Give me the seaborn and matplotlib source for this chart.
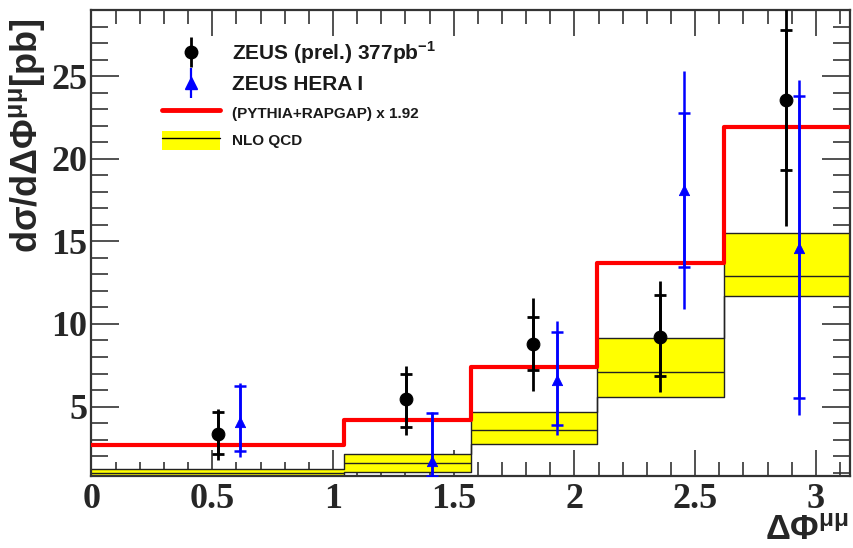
import numpy as np
import matplotlib
matplotlib.use("Agg")
import matplotlib.pyplot as plt
import seaborn as sns
from matplotlib.lines import Line2D
from matplotlib.patches import Patch
from matplotlib.ticker import MultipleLocator

# ---------------- data ----------------
bin_edges = [0.0, 1.047, 1.571, 2.094, 2.618, 3.1416]
pythia = [2.7, 4.2, 7.4, 13.7, 21.9]
nlo_center = [1.0, 1.56, 3.58, 7.1, 12.9]
nlo_low = [0.75, 1.05, 2.71, 5.6, 11.7]
nlo_high = [1.25, 2.12, 4.69, 9.13, 15.5]

zeus_x = [0.524, 1.303, 1.829, 2.355, 2.877]
zeus_y = [3.33, 5.44, 8.79, 9.23, 23.53]
zeus_stat_lo = [2.12, 3.78, 7.21, 6.87, 19.3]
zeus_stat_hi = [4.65, 7.0, 10.4, 11.74, 27.8]
zeus_tot_lo = [1.76, 3.27, 5.96, 5.86, 15.9]
zeus_tot_hi = [4.83, 7.45, 11.6, 12.6, 31.0]

hera_x = [0.615, 1.409, 1.930, 2.452, 2.932]
hera_y = [4.08, 1.7, 6.6, 18.08, 14.59]
hera_stat_lo = [2.3, 0.8, 3.88, 13.47, 5.5]
hera_stat_hi = [6.24, 4.6, 9.53, 22.77, 23.8]
hera_tot_lo = [1.92, 0.0, 3.27, 10.9, 4.48]
hera_tot_hi = [6.44, 4.65, 10.2, 25.3, 24.75]

x_ticks = [0, 0.5, 1, 1.5, 2, 2.5, 3]
x_ticklabels = ["0", "0.5", "1", "1.5", "2", "2.5", "3"]
y_ticks = [5, 10, 15, 20, 25]
y_ticklabels = ["5", "10", "15", "20", "25"]

legend_labels = ["ZEUS (prel.) 377pb$^{\\mathbf{-1}}$", "ZEUS HERA I",
                 "(PYTHIA+RAPGAP) x 1.92", "NLO QCD"]

# ---------------- style ----------------
sns.set_theme(style="ticks")
plt.rcParams["font.family"] = ["Liberation Sans", "DejaVu Sans"]
plt.rcParams["mathtext.fontset"] = "custom"
plt.rcParams["mathtext.bf"] = "Liberation Sans:bold"
plt.rcParams["mathtext.rm"] = "Liberation Sans:bold"

fig = plt.figure(figsize=(8.54, 5.48), dpi=100)
ax = fig.add_axes([91.5 / 854, 1 - 476 / 548, (850 - 91.5) / 854, (476 - 10) / 548])

def stepped(vals):
    return list(vals) + [vals[-1]]

# NLO band
ax.fill_between(bin_edges, stepped(nlo_low), stepped(nlo_high), step="post",
                color="#ffff00", lw=0, zorder=1)
for arr in (nlo_low, nlo_high):
    sns.lineplot(x=bin_edges, y=stepped(arr), drawstyle="steps-post",
                 color="#222222", lw=1.0, ax=ax, zorder=2, legend=False)
ax.hlines(nlo_center, bin_edges[:-1], bin_edges[1:], color="#222222", lw=1.0, zorder=2)

# PYTHIA
sns.lineplot(x=bin_edges, y=stepped(pythia), drawstyle="steps-post",
             color="#ff0000", lw=3.0, ax=ax, zorder=3, legend=False)

# ZEUS points
zy = np.array(zeus_y)
ax.errorbar(zeus_x, zy, yerr=[zy - np.array(zeus_tot_lo), np.array(zeus_tot_hi) - zy],
            fmt="none", ecolor="black", elinewidth=2.0, capsize=0, zorder=4)
ax.errorbar(zeus_x, zy, yerr=[zy - np.array(zeus_stat_lo), np.array(zeus_stat_hi) - zy],
            fmt="none", ecolor="black", elinewidth=2.0, capsize=4, capthick=2.0, zorder=4)
sns.scatterplot(x=zeus_x, y=zeus_y, marker="o", s=85, color="black",
                edgecolor="black", ax=ax, zorder=5, legend=False)

# HERA I points
hy = np.array(hera_y)
ax.errorbar(hera_x, hy, yerr=[hy - np.array(hera_tot_lo), np.array(hera_tot_hi) - hy],
            fmt="none", ecolor="#0000ff", elinewidth=1.8, capsize=0, zorder=4)
ax.errorbar(hera_x, hy, yerr=[hy - np.array(hera_stat_lo), np.array(hera_stat_hi) - hy],
            fmt="none", ecolor="#0000ff", elinewidth=1.8, capsize=4, capthick=1.8, zorder=4)
sns.scatterplot(x=hera_x, y=hera_y, marker="^", s=55, color="#0000ff",
                edgecolor="#0000ff", ax=ax, zorder=5, legend=False)

# axes
ax.set_xlim(0, 3.1416)
ax.set_ylim(0.8, 29.0)
ax.set_xticks(x_ticks)
ax.set_xticklabels(x_ticklabels)
ax.set_yticks(y_ticks)
ax.set_yticklabels(y_ticklabels)
ax.xaxis.set_minor_locator(MultipleLocator(0.1))
ax.yaxis.set_minor_locator(MultipleLocator(1))
ax.tick_params(axis="both", which="both", direction="in", top=True, right=True,
               color="#333333", width=1.2)
ax.tick_params(axis="x", which="major", length=19, pad=5)
ax.tick_params(axis="x", which="minor", length=10)
ax.tick_params(axis="y", which="major", length=20, pad=3)
ax.tick_params(axis="y", which="minor", length=12)
for lab in ax.get_xticklabels() + ax.get_yticklabels():
    lab.set_fontfamily("Liberation Serif")
    lab.set_fontweight("bold")
    lab.set_fontsize(26)
for sp in ax.spines.values():
    sp.set_color("#333333")
    sp.set_linewidth(1.6)
ax.grid(False)

# axis labels
fig.text(27 / 854, 1 - 18 / 548, "$\\mathbf{d\u03c3/d\u0394\u03a6^{\u03bc\u03bc}[pb]}$",
         rotation=90, ha="center", va="top", fontsize=26)
fig.text(849 / 854, 1 - 547 / 548, "$\\mathbf{\u0394\u03a6^{\u03bc\u03bc}}$",
         ha="right", va="bottom", fontsize=25)

# legend
h_zeus = (Line2D([], [], marker="|", ms=22, mew=2.0, color="black", ls=""),
          Line2D([], [], marker="o", ms=9, color="black", ls=""))
h_hera = (Line2D([], [], marker="|", ms=22, mew=1.6, color="#0000ff", ls=""),
          Line2D([], [], marker="^", ms=8, color="#0000ff", ls=""))
h_py = Line2D([], [], color="#ff0000", lw=3.5)
h_nlo = (Patch(facecolor="#ffff00", edgecolor="none"), Line2D([], [], color="black", lw=1.0))
leg = ax.legend([h_zeus, h_hera, h_py, h_nlo], legend_labels,
                loc="upper left", bbox_to_anchor=(162 / 854, 1 - 39 / 548),
                bbox_transform=fig.transFigure, frameon=False, fontsize=11,
                handlelength=3.8, handleheight=1.5, handletextpad=0.75,
                labelspacing=0.6, borderpad=0, borderaxespad=0)
texts = leg.get_texts()
for i, t in enumerate(texts):
    t.set_fontweight("bold")
    t.set_color("#1a1a1a")
    t.set_fontsize(15 if i < 2 else 11)

fig.savefig("out.png", dpi=100)
